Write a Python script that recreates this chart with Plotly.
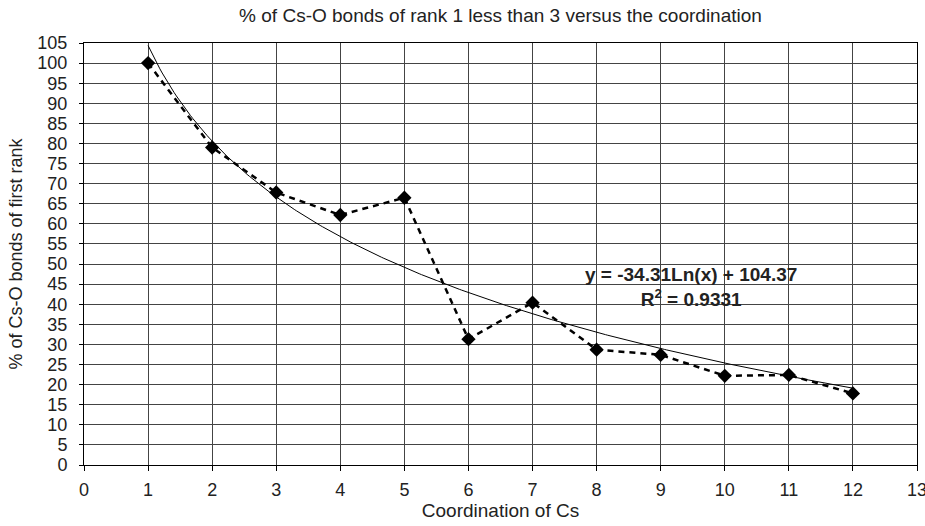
import numpy as np
import plotly.graph_objects as go

# Coordination number of Cs and % of first-rank Cs-O bonds
coordination = [1, 2, 3, 4, 5, 6, 7, 8, 9, 10, 11, 12]
pct_first_rank = [100, 79, 67.8, 62.2, 66.5, 31.3, 40.4, 28.7, 27.4, 22.2, 22.4, 17.8]

# Logarithmic trend coefficients (y = a*Ln(x) + b) and fit quality
fit_a = -34.31
fit_b = 104.37
fit_r2 = 0.9331

x_ticks = list(range(0, 14))
y_ticks = list(range(0, 106, 5))

FONT = "Liberation Sans, Arial, sans-serif"
TXT = "#222"

xf = np.linspace(min(coordination), max(coordination), 300)
yf = fit_a * np.log(xf) + fit_b

fig = go.Figure()

fig.add_trace(go.Scatter(
    x=xf, y=yf, mode="lines",
    line=dict(color="black", width=1),
    hoverinfo="skip", showlegend=False,
))

fig.add_trace(go.Scatter(
    x=coordination, y=pct_first_rank, mode="lines+markers",
    line=dict(color="black", width=2.5, dash="6px,5px"),
    marker=dict(symbol="diamond", size=11, color="black"),
    showlegend=False,
))

fig.add_annotation(
    x=9.47, y=44.4, xref="x", yref="y",
    text=f"<b>y = {fit_a:.2f}Ln(x) + {fit_b:.2f}</b><br><b>R<sup>2</sup> = {fit_r2:.4f}</b>",
    showarrow=False, align="center",
    font=dict(family=FONT, size=19, color=TXT),
)

fig.update_layout(
    width=925, height=526,
    margin=dict(l=84, r=8, t=43, b=61, autoexpand=False),
    paper_bgcolor="white", plot_bgcolor="white",
    font=dict(family=FONT, color=TXT),
    title=dict(
        text="% of Cs-O bonds of rank 1 less than 3 versus the coordination",
        x=0.5, xref="paper", xanchor="center", y=0.97, yanchor="middle",
        font=dict(size=19, family=FONT, color=TXT),
    ),
)

fig.update_xaxes(
    range=[0, 13], tickvals=x_ticks, ticktext=[str(v) for v in x_ticks],
    showgrid=True, gridcolor="#444", gridwidth=1,
    showline=True, linecolor="black", linewidth=1, mirror=True,
    ticks="outside", ticklen=5, tickcolor="black",
    ticklabeloverflow="allow", ticklabelstandoff=3, automargin=False,
    tickfont=dict(size=18, family=FONT, color=TXT),
    title=dict(text="Coordination of Cs", font=dict(size=19, family=FONT, color=TXT), standoff=0),
    zeroline=False,
)
fig.update_yaxes(
    range=[0, 105], tickvals=y_ticks, ticktext=[str(v) for v in y_ticks],
    showgrid=True, gridcolor="#444", gridwidth=1.3,
    showline=True, linecolor="black", linewidth=1, mirror=True,
    ticks="outside", ticklen=4, tickcolor="black",
    ticklabeloverflow="allow", ticklabelstandoff=8, automargin=False,
    tickfont=dict(size=18, family=FONT, color=TXT),
    title=dict(text="% of Cs-O bonds of first rank", font=dict(size=18, family=FONT, color=TXT), standoff=10),
    zeroline=False,
)

fig.write_html("out.html")
